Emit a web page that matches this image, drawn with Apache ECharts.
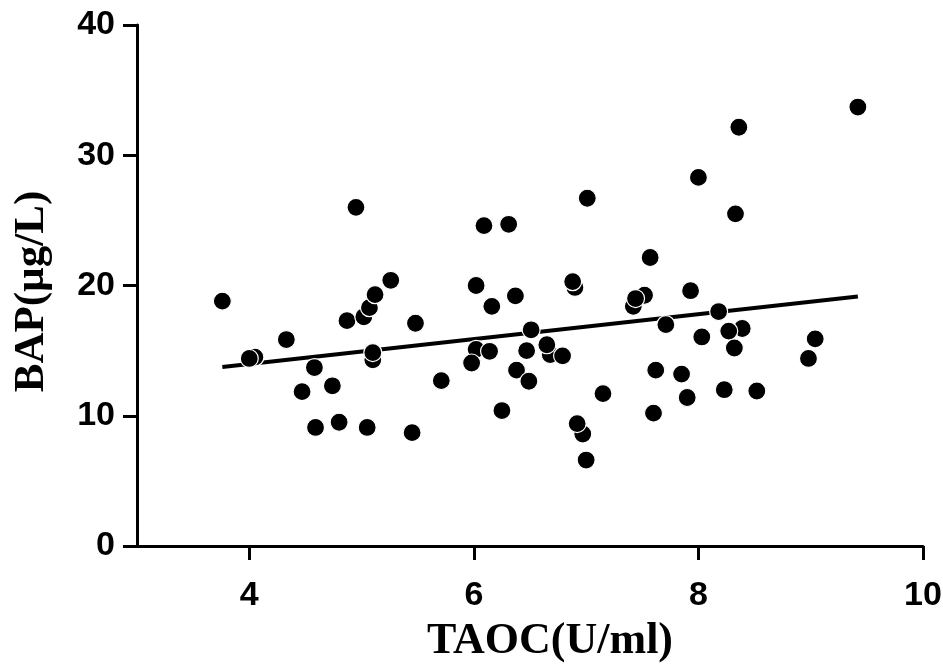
<!DOCTYPE html>
<html>
<head>
<meta charset="utf-8">
<script src="https://cdn.jsdelivr.net/npm/echarts@6/dist/echarts.min.js"></script>
<style>
html,body{margin:0;padding:0;background:#fff;}
#chart{width:943px;height:664px;}
</style>
</head>
<body>
<div id="chart"></div>
<script>
// TAOC (U/ml) values of each point (points drawn behind others come first)
var taoc = [4.05, 5.10, 6.90, 7.52, 7.42, 6.02, 6.68, 6.97, 8.39,
  3.76, 4.00, 4.33, 4.58, 4.47, 4.74, 4.59, 4.80, 5.05, 5.45, 4.87, 5.02, 5.07, 5.12, 5.26, 5.48, 5.10, 4.95,
  6.09, 6.31, 7.01, 6.02, 6.16, 6.37, 6.88, 7.57, 7.44,
  6.51, 7.71,
  5.71, 5.98, 6.14, 6.47, 6.38, 6.49, 6.65, 6.79, 6.25, 7.15, 6.92, 7.00, 7.62, 7.60,
  9.42, 8.36, 8.00, 8.33, 7.93, 8.18,
  8.03, 8.27, 8.32, 7.85, 7.90, 8.23, 8.52, 9.04, 8.98];
// BAP (µg/L) values of each point
var bap = [14.5, 14.3, 19.85, 19.25, 18.4, 15.1, 14.7, 8.6, 16.7,
  18.8, 14.4, 15.85, 13.7, 11.85, 12.3, 9.1, 9.5, 9.1, 8.7, 17.3, 17.6, 18.3, 19.3, 20.4, 17.1, 14.85, 26.0,
  24.6, 24.7, 26.7, 20.0, 18.4, 19.2, 20.3, 22.15, 19.0,
  16.6, 17.0,
  12.7, 14.05, 14.95, 15.0, 13.5, 12.65, 15.45, 14.6, 10.4, 11.7, 9.4, 6.6, 13.5, 10.2,
  33.7, 32.15, 28.3, 25.5, 19.6, 18.0,
  16.05, 16.5, 15.2, 13.2, 11.4, 12.0, 11.9, 15.9, 14.4];
// regression line end points
var fitX = [3.76, 9.42];
var fitY = [13.75, 19.15];
// tick labels
var xTicks = [4, 6, 8, 10];
var yTicks = [0, 10, 20, 30, 40];

var points = taoc.map(function (x, i) { return [x, bap[i]]; });
var fit = fitX.map(function (x, i) { return [x, fitY[i]]; });

var chart = echarts.init(document.getElementById('chart'), null, {renderer: 'canvas'});
var axisFont = {fontFamily: 'Liberation Sans', fontWeight: 'bold', fontSize: 34, color: '#000'};
chart.setOption({
  animation: false,
  backgroundColor: '#fff',
  grid: {left: 137, right: 20, top: 25, bottom: 118, containLabel: false, outerBoundsMode: 'none'},
  xAxis: {
    type: 'value', min: 3, max: 10,
    name: 'TAOC(U/ml)', nameLocation: 'middle', nameGap: 74,
    nameTextStyle: {fontFamily: 'Liberation Serif', fontWeight: 'bold', fontSize: 44, color: '#000', padding: [0, 0, 0, 40]},
    axisLine: {show: true, lineStyle: {color: '#000', width: 3}},
    axisTick: {show: true, length: 14, lineStyle: {color: '#000', width: 3}, customValues: xTicks},
    axisLabel: Object.assign({margin: 33, customValues: xTicks}, axisFont),
    splitLine: {show: false}
  },
  yAxis: {
    type: 'value', min: 0, max: 40, interval: 10,
    name: 'BAP(µg/L)', nameLocation: 'middle', nameGap: 84,
    nameTextStyle: {fontFamily: 'Liberation Serif', fontWeight: 'bold', fontSize: 43, color: '#000', padding: [0, 12, 0, 0]},
    axisLine: {show: true, lineStyle: {color: '#000', width: 3}},
    axisTick: {show: true, length: 14, lineStyle: {color: '#000', width: 3}, customValues: yTicks},
    axisLabel: Object.assign({margin: 22, customValues: yTicks}, axisFont),
    splitLine: {show: false}
  },
  series: [
    {
      type: 'line', data: fit, symbol: 'none', z: 1,
      lineStyle: {color: '#000', width: 4}
    },
    {
      type: 'scatter', data: points, symbol: 'circle', symbolSize: 18, z: 2,
      itemStyle: {color: '#000', borderColor: '#fff', borderWidth: 1.2, opacity: 1}
    }
  ]
});
</script>
</body>
</html>
